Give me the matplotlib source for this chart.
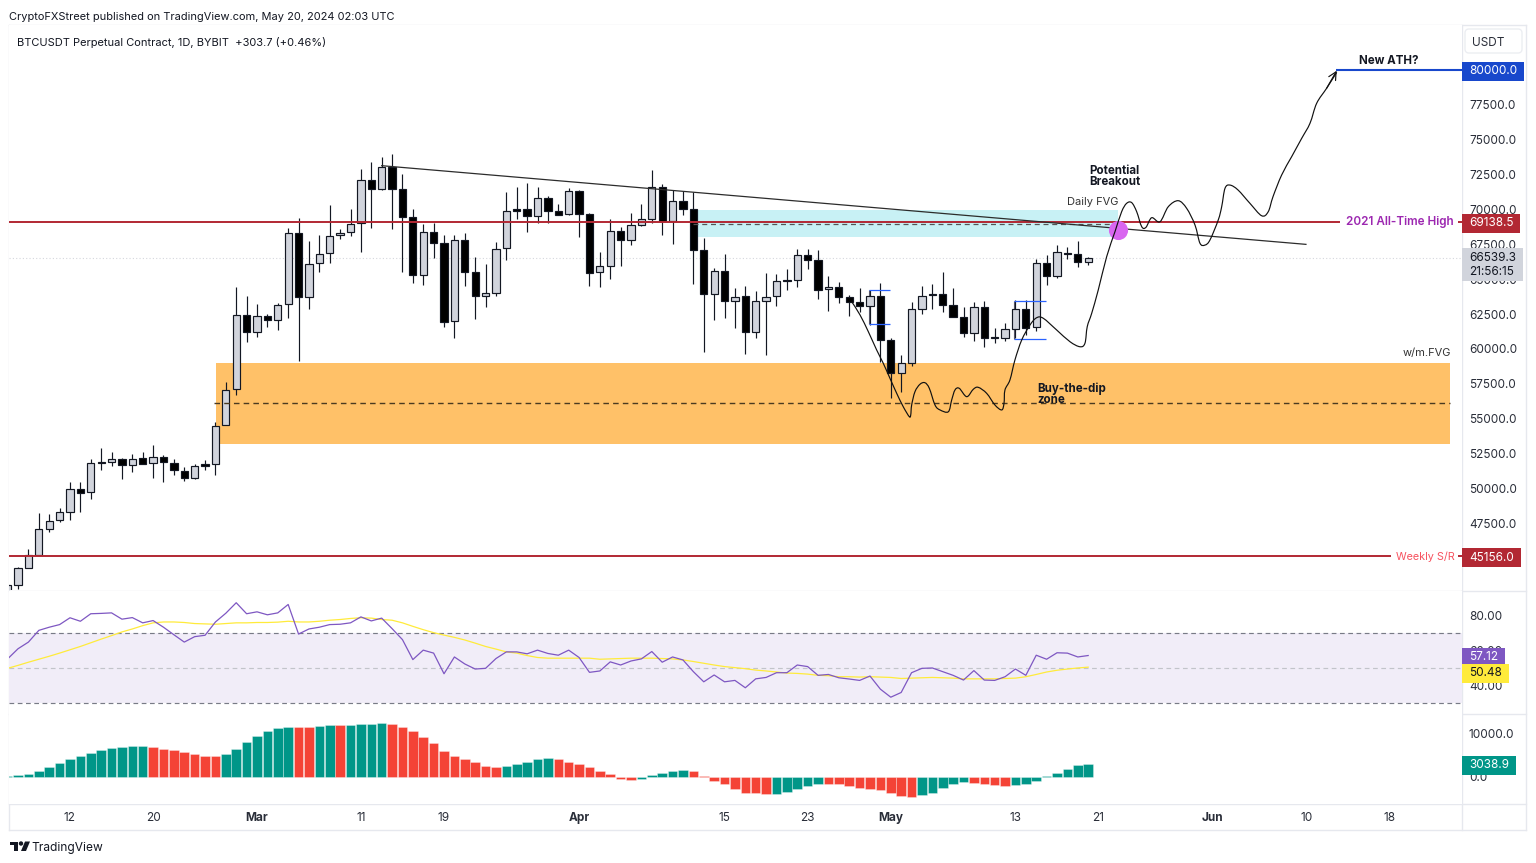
import numpy as np
import matplotlib
matplotlib.use("Agg")
import matplotlib.pyplot as plt
from matplotlib.patches import Rectangle, Circle, Polygon, FancyBboxPatch, PathPatch
from matplotlib.path import Path

plt.rcParams['font.family'] = ['Inter', 'DejaVu Sans']

# days counted from 1 March 2024
days = np.arange(-24, 81)

opens = [42360,43080,44320,45230,47120,47720,48340,49960,49730,51900,51920,52130,51700,52160,51810,52280,51850,51270,50770,51730,51750,54530,57110,
         62460,61200,62390,62060,63200,68340,63750,66140,66860,68150,68370,69010,72110,71490,73070,71450,69480,65320,68410,67620,61980,67810,65500,63820,63990,
         67220,70010,70010,69550,70800,69890,69660,71350,69700,65500,65970,68440,67790,68910,69340,71630,69200,70610,70030,67120,63920,65590,63420,63780,61240,
         63460,63800,64950,64920,66720,66380,64280,64420,63730,63390,63080,63800,60660,58300,59020,62840,63960,63960,63130,62290,61170,63030,60840,60790,61430,
         62890,61550,66170,65210,66880,66830,66210]
closes = [43080,44280,45230,47100,47690,48310,49940,49700,51800,51850,52130,51700,52130,51780,52240,51880,51320,50750,51590,51630,54500,57060,62460,
          61200,62390,62060,63150,68340,63750,66090,66830,68120,68340,68960,72110,71490,73070,71470,69480,65320,68390,67620,61960,67810,65520,63820,63990,67190,
          69870,69910,69550,70800,69910,69630,71350,69700,65470,65930,68440,67810,68870,69300,71630,69200,70610,70030,67120,63920,65590,63420,63750,61240,63420,
          63750,64850,64900,66720,66400,64250,64420,63750,63390,63080,63770,60640,58300,59020,62840,63820,63850,63130,62290,61170,63030,60770,60790,61410,62890,
          61520,66140,65210,66930,66830,66240,66539]
highs = [43150,44390,45640,48220,48190,48600,50460,50460,52110,52880,52640,52200,52470,52590,53120,52420,52110,51560,51750,52020,54770,57650,64460,
         63800,63200,62510,63320,68650,69370,67760,68150,70320,68600,70030,72900,73380,73740,73960,72520,70060,68960,69010,68150,68150,68290,66610,66070,67690,
         71280,71630,71880,71590,70940,70390,71520,71370,69730,66950,69300,68770,69730,70370,72830,71800,71400,71330,71230,67940,65780,66810,64350,64490,64130,
         65420,65370,65710,67190,67150,67100,65230,64780,63870,64350,64230,64710,60810,59570,63350,64510,64640,65520,64370,62990,63390,63420,61480,61840,63510,
         63510,66450,66740,67430,67310,67740,66560]
lows = [42000,42790,44320,45230,46860,47570,47740,48310,49240,51340,51630,50680,51200,51730,50770,50440,50960,50540,50660,51340,50960,54530,56700,
        60480,60840,61600,61340,62240,59140,62840,65540,66140,67910,68120,66930,68690,71400,68600,65540,64710,64560,66540,61550,60810,64540,62130,63030,63820,
        66380,69340,68410,69010,69010,69580,69630,68050,64500,64440,65040,65970,67480,68840,69050,68190,67500,69580,64660,59780,62080,62240,61530,59620,60810,
        59570,63060,64200,64440,65750,63560,62750,63320,62380,62670,61740,59090,56510,56890,58800,62510,62890,62670,62270,60840,60550,60120,60450,60590,60770,
        61000,61310,64610,65070,66450,65860,66040]

rsi = [55.2,61.0,64.8,71.5,73.3,74.8,78.7,76.7,81.0,81.2,81.5,77.9,78.8,75.8,77.1,73.3,69.0,64.8,67.9,68.7,76.3,81.3,87.3,81.0,
       82.1,80.4,81.5,86.3,69.4,72.3,73.3,74.8,75.0,75.8,79.2,76.9,78.5,72.5,66.2,54.8,60.2,58.5,46.7,56.3,52.3,49.4,49.8,55.4,59.2,59.2,58.1,60.2,58.3,
       57.3,60.2,56.0,47.5,48.3,53.5,51.7,54.0,55.2,59.4,53.3,56.3,54.6,47.9,42.1,46.0,42.1,42.9,38.7,43.8,44.6,47.3,47.3,51.7,50.8,45.8,46.3,44.4,43.7,42.9,45.4,
       37.9,33.3,36.0,47.3,49.8,50.0,47.9,45.8,43.1,48.5,43.1,42.9,45.0,49.4,45.8,57.3,55.0,58.7,58.5,56.3,57.12]
rsi_ma = [49.8,51.5,53.3,55.0,56.7,58.5,60.4,62.3,64.4,66.5,68.5,70.6,72.3,74.2,75.8,76.3,76.3,76.0,75.4,75.2,75.0,75.4,75.8,75.8,
          76.0,76.0,76.2,76.7,76.3,76.3,76.7,77.3,77.7,78.3,78.7,78.5,77.7,77.3,75.8,73.8,71.9,70.2,68.8,67.5,66.0,64.2,62.3,60.8,59.2,58.5,57.1,56.0,55.6,
          55.6,55.6,55.6,55.6,55.0,55.2,55.4,55.6,55.6,55.6,55.4,55.2,54.6,53.7,52.7,51.7,50.8,50.2,49.6,48.8,48.3,47.7,47.1,46.9,46.5,45.8,45.6,45.0,45.0,44.8,45.0,
          44.8,44.6,44.0,44.2,44.4,44.6,44.4,44.2,43.8,43.8,43.8,43.8,44.0,44.2,45.0,46.3,47.7,48.7,49.4,50.0,50.48]

hist = [150,390,700,1400,2180,3120,4130,4910,5530,6150,6700,7010,7170,7170,6860,6390,6150,5760,5300,4910,4910,5220,6540,8020,
        9580,10750,11370,11610,11530,11530,11760,12150,12000,12150,12310,12310,12460,12310,11690,10590,9270,7790,6080,4910,4210,3510,2410,2180,2570,2880,3350,4050,4280,
        4050,3510,3040,2180,1250,620,-400,-700,-400,500,930,1250,1640,1250,200,-930,-1710,-2960,-3900,-3900,-4130,-4130,-3580,-2960,-2180,-1640,-1640,-1710,-2260,-2730,-2960,
        -3120,-3820,-4440,-4670,-4360,-3820,-2650,-1640,-1320,-1400,-1640,-1950,-2100,-1870,-1640,-1010,150,930,1790,2650,3038.9]
# colour runs read left to right along the histogram
hist_colour = ("g"*14 + "r"*7 + "g"*7 + "r"*2 + "g"*2 + "r" + "g"*4 + "r"*11 + "g"*5 + "r"*8 + "g"*5
               + "r"*8 + "g"*5 + "r"*9 + "g"*5 + "r"*4 + "g"*8)

sketch_x = [57.24,58.04,58.84,59.64,60.28,60.92,61.57,62.20,62.78,62.92,63.01,63.33,63.81,64.29,64.71,65.26,65.74,66.54,66.86,67.18,67.59,68.31,68.94,69.42,70.23,71.03,71.68,71.90,71.99,72.47,72.95,73.60,74.40,75.04,75.68,76.97,78.25,79.21,79.69,79.91,80.34,80.97,81.78,82.58,83.22,83.70,84.19,84.67,85.15,85.56,86.11,86.91,87.71,88.67,89.48,90.28,90.76,91.24,91.72,92.52,92.85,93.17,93.65,94.42,95.57,96.70,97.33,97.79,98.62,99.58,100.55,101.35,101.99,102.95,103.92]
sketch_y = [63390,62440,61240,59930,58970,57900,56820,55860,55150,55270,55980,56940,57470,57580,57180,55980,55630,55500,56340,57060,57180,56580,57110,57250,56820,55980,55630,56110,57060,57780,59210,60640,61720,62240,62200,61360,60520,60160,60410,61600,62560,64230,66620,68410,69840,70440,70490,69840,68770,68720,69410,69120,70200,70630,70080,68890,67580,67450,67810,69250,70200,71520,71750,71400,70440,69550,69840,70920,72470,73780,75100,76180,77610,78690,79830]

price_ticks = [47500,50000,52500,55000,57500,60000,62500,65000,67500,70000,72500,75000,77500]
x_ticks = [-18,-10,0,10,18,31,45,53,61,73,81,92,101,109]
x_labels = ['12','20','Mar','11','19','Apr','15','23','May','13','21','Jun','10','18']

ath = 69138.5
weekly_sr = 45156.0
target = 80000.0
last_price = 66539.3

W, H = 1536, 863
TEXT = '#131722'
AXTXT = '#2a2e39'
LINE = '#e6e8ee'
RED = '#b22833'
PT = 8.5

fig = plt.figure(figsize=(W/100, H/100), dpi=100, facecolor='white')

def pane(top, bottom):
    a = fig.add_axes([9/W, 1-bottom/H, (1462-9)/W, (bottom-top)/H])
    a.set_xlim(-23.87, 115.98)
    for s in a.spines.values():
        s.set_visible(False)
    a.yaxis.tick_right()
    a.tick_params(axis='y', length=0, pad=5, labelsize=PT, labelcolor=AXTXT)
    a.tick_params(axis='x', length=0, labelbottom=False)
    return a

ax = pane(25, 590)
ax.set_ylim(42721, 83226)
ax.set_yticks(price_ticks)
ax.set_yticklabels([f'{p:.1f}' for p in price_ticks], va='center_baseline')

ax_rsi = pane(591, 714)
ax_rsi.set_ylim(23.7, 94)
ax_rsi.set_yticks([40, 60, 80])
ax_rsi.set_yticklabels(['40.00', '60.00', '80.00'], va='center_baseline')

ax_hist = pane(714, 804)
ax_hist.set_ylim(-6355, 14670)
ax_hist.set_yticks([0, 10000])
ax_hist.set_yticklabels(['0.0', '10000.0'], va='center_baseline')
ax_hist.set_xticks(x_ticks)
ax_hist.set_xticklabels(x_labels)
ax_hist.tick_params(axis='x', labelbottom=True, pad=5.5, labelsize=PT, labelcolor=AXTXT)
for t in ax_hist.get_xticklabels():
    if t.get_text() in ('Mar', 'Apr', 'May', 'Jun'):
        t.set_fontweight('bold')

# zones
ax.add_patch(Rectangle((-3.95, 53190), 118.77, 5840, fc='#ffc168', ec='none', zorder=1))
ax.add_patch(Rectangle((42.3, 68030), 40.6, 1940, fc='#c8f1f5', ec='none', zorder=1))
ax.axhline(last_price, color='#d5d7dd', lw=0.8, ls=(0, (1, 2)), zorder=1)

# candles
opens_a, closes_a = np.array(opens), np.array(closes)
up = closes_a >= opens_a
ax.vlines(days, lows, highs, color=TEXT, lw=0.85, zorder=2)
ax.bar(days, closes_a-opens_a, bottom=opens_a, width=0.7, color=np.where(up, '#d1d4dc', '#000000').tolist(),
       edgecolor=TEXT, lw=0.85, zorder=3)

# levels
ax.hlines(ath, -23.87, 104.2, color=RED, lw=1.4, zorder=4)
ax.hlines(ath, 115.6, 115.98, color=RED, lw=1.4, zorder=4)
ax.hlines(weekly_sr, -23.87, 109.1, color=RED, lw=1.4, zorder=4)
ax.hlines(weekly_sr, 115.6, 115.98, color=RED, lw=1.4, zorder=4)
ax.hlines(target, 103.9, 115.98, color='#1848cc', lw=1.5, zorder=4)
ax.hlines(68990, 42.0, 82.9, color='#555555', lw=0.9, ls=(0, (4, 3)), zorder=4)
ax.hlines(56130, -4.1, 114.82, color='#4a3a20', lw=1.0, ls=(0, (4, 3)), zorder=4)
ax.plot([12.0, 100.96], [73140, 67500], color='#2c2c2c', lw=0.9, zorder=5)

# long-position brackets
for x0, x1, y0, y1 in [(58.9, 60.92, 64200, 61770), (72.9, 75.98, 63460, 60740)]:
    ax.hlines([y0, y1], x0, x1, color='#2962ff', lw=0.9, zorder=5)
    ax.vlines(x0, y1, y0, color='#555566', lw=0.8, zorder=2)

ax.scatter([82.9], [68530], s=190, color='#d966f0', zorder=5, lw=0)

# sketched path, drawn as a curve through the points
pts = np.column_stack([sketch_x, sketch_y])
n = len(pts)
verts = [pts[0]]
codes = [Path.MOVETO]
for i in range(n-1):
    p0, p1, p2, p3 = pts[max(i-1, 0)], pts[i], pts[i+1], pts[min(i+2, n-1)]
    verts += [p1+(p2-p0)/6, p2-(p3-p1)/6, p2]
    codes += [Path.CURVE4]*3
ax.add_patch(PathPatch(Path(verts, codes), fill=False, ec='#111111', lw=0.85, zorder=6))
ax.annotate('', xy=(sketch_x[-1], sketch_y[-1]+120), xytext=(sketch_x[-2], sketch_y[-2]),
            arrowprops=dict(arrowstyle='->', color='#111111', lw=0.85, mutation_scale=14, shrinkA=0, shrinkB=0), zorder=6)

ax.text(106.06, 80616, 'New ATH?', fontsize=8.3, fontweight='bold', color=TEXT, va='center', zorder=7)
ax.text(80.08, 72370, 'Potential\nBreakout', fontsize=8.3, fontweight='bold', color=TEXT, va='center', linespacing=0.95, zorder=7)
ax.text(77.96, 70570, 'Daily FVG', fontsize=8.0, color='#333333', va='center', zorder=7)
ax.text(75.07, 56760, 'Buy-the-dip\nzone', fontsize=8.3, fontweight='bold', color=TEXT, va='center', linespacing=0.95, zorder=7)
ax.text(110.3, 59680, 'w/m.FVG', fontsize=8.0, color='#333333', va='center', zorder=7)
ax.text(104.8, ath-70, '2021 All-Time High', fontsize=8.45, fontweight='semibold', color='#9c27b0', va='center', zorder=7)
ax.text(109.6, weekly_sr-70, 'Weekly S/R', fontsize=7.8, color='#f7525f', va='center', zorder=7)

# RSI pane
ax_rsi.axhspan(30, 70, fc='#7e57c2', alpha=0.1, ec='none')
ax_rsi.axhline(70, color='#787b86', lw=0.85, ls=(0, (4, 3)))
ax_rsi.axhline(50, color='#c2c4ca', lw=0.85, ls=(0, (4, 3)))
ax_rsi.axhline(30, color='#787b86', lw=0.85, ls=(0, (4, 3)))
ax_rsi.plot(days, rsi_ma, color='#ffeb3b', lw=0.9)
ax_rsi.plot(days, rsi, color='#7e57c2', lw=0.9)

# histogram pane
bar_cols = ['#009688' if c == 'g' else '#f44336' for c in hist_colour]
ax_hist.bar(days, hist, width=0.92, color=bar_cols, edgecolor=(1, 1, 1, 0.35), lw=0.6)

# value tags on the scale
def tag_box(x0, y0, w, h, scale):
    # display pixels: 7 wide either side, 3.5 above and below the text
    xa, xb = x0-7, x0+w+7
    ya, yb = y0-3.5, y0+h+3.5
    return Path([(xa, ya), (xb, ya), (xb, yb), (xa, yb), (xa, ya)], closed=True)

def tag(a, value, text, fc, tc='white', dy=0):
    a.annotate(text, xy=(1, value), xycoords=a.get_yaxis_transform(), xytext=(5.0, dy), textcoords='offset points',
               fontsize=PT, color=tc, va='center_baseline', ha='left', annotation_clip=False, zorder=9,
               bbox=dict(boxstyle=tag_box, fc=fc, ec='none'))

tag(ax, target, '80000.0', '#1848cc')
tag(ax, ath, '69138.5', RED)
tag(ax, weekly_sr, '45156.0', RED)
tag(ax_rsi, 57.12, '57.12', '#7e57c2')
tag(ax_rsi, 50.48, '50.48', '#ffeb3b', tc=TEXT, dy=-3.2)
tag(ax_hist, 3038.9, '3038.9', '#009688')
ax.annotate(f'{last_price:.1f}\n21:56:15', xy=(1, last_price), xycoords=ax.get_yaxis_transform(), xytext=(5.0, 4.2),
            textcoords='offset points', fontsize=PT, color=TEXT, va='top', ha='left', linespacing=1.2,
            annotation_clip=False, zorder=9, bbox=dict(boxstyle=tag_box, fc='#d1d4dc', ec='none'))

# frame, header and footer
over = fig.add_axes([0, 0, 1, 1], zorder=-1)
over.set_xlim(0, W)
over.set_ylim(H, 0)
over.axis('off')
for xs, ys in [([9, 1526], [25, 25]), ([9, 1526], [590.5, 590.5]), ([9, 1526], [714, 714]), ([9, 1526], [804, 804]),
               ([9, 1526], [830, 830]), ([9, 9], [25, 830]), ([1462, 1462], [25, 830]), ([1526, 1526], [25, 830])]:
    over.plot(xs, ys, color=LINE, lw=1)
over.add_patch(FancyBboxPatch((1465, 29), 57, 24, boxstyle='round,pad=0,rounding_size=4', fc='white', ec='#eceef2', lw=1))

fig.text(1488.5/W, 1-41.5/H, 'USDT', fontsize=PT, color=AXTXT, ha='center', va='center_baseline')
fig.text(9/W, 1-16.5/H, 'CryptoFXStreet published on TradingView.com, May 20, 2024 02:03 UTC', fontsize=7.95, color=TEXT, va='center_baseline')
fig.text(17/W, 1-42/H, 'BTCUSDT Perpetual Contract, 1D, BYBIT  +303.7 (+0.46%)', fontsize=7.98, color=TEXT, va='center_baseline')
fig.text(31/W, 1-846.5/H, 'TradingView', fontsize=8.6, color=TEXT, va='center_baseline')

over.add_patch(Polygon([(9.5, 841.5), (17.5, 841.5), (17.5, 851), (13.5, 851), (13.5, 845), (9.5, 845)], fc=TEXT, ec='none'))
over.add_patch(Circle((21, 843.5), 2.2, fc=TEXT, ec='none'))
over.add_patch(Polygon([(25, 841.5), (30, 841.5), (26, 851), (21, 851)], fc=TEXT, ec='none'))

fig.savefig('out.png', dpi=100)
